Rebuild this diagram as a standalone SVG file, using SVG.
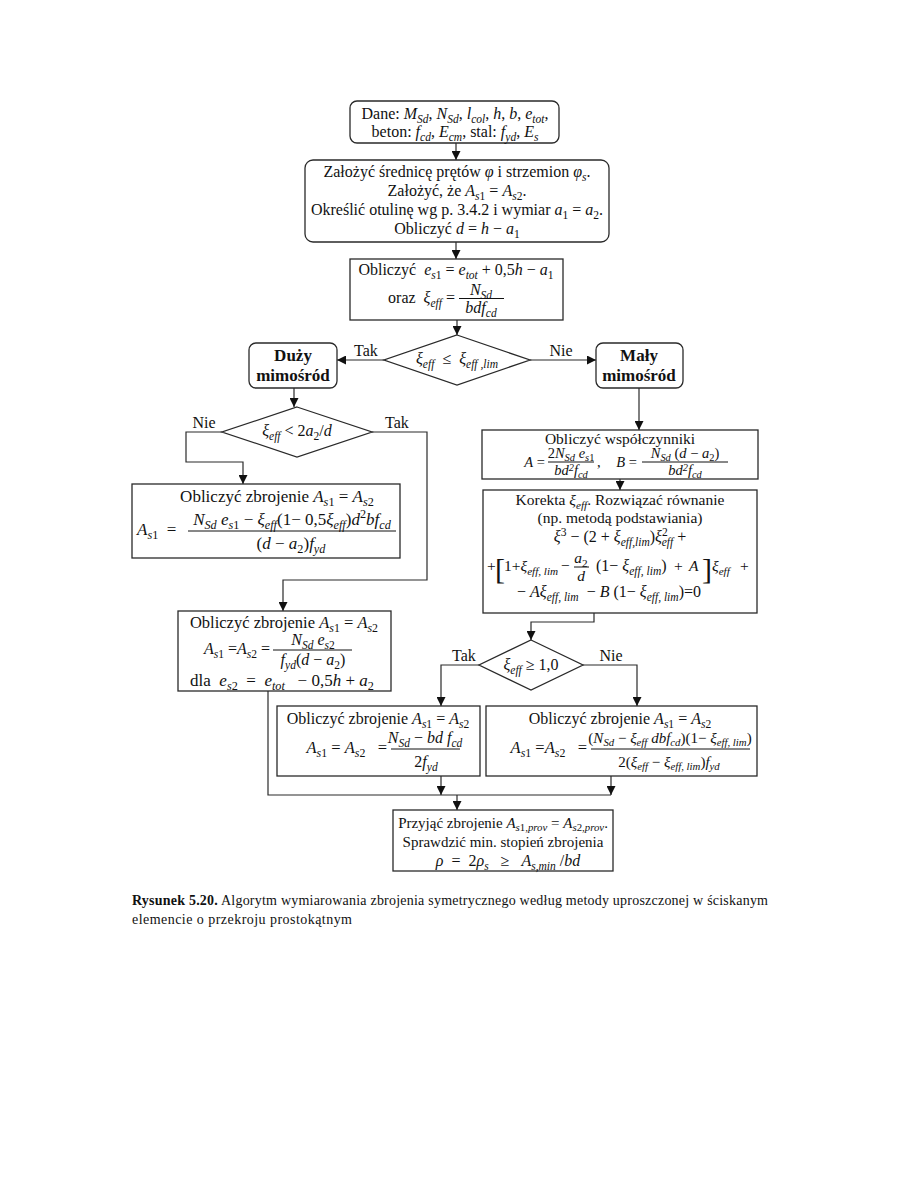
<svg xmlns="http://www.w3.org/2000/svg" width="918" height="1188" viewBox="0 0 918 1188" font-size="16">
<style>
text{font-family:"Liberation Serif","Times New Roman",serif;fill:#111}
.c{text-anchor:middle}
.e{text-anchor:end}
.i{font-style:italic}
.b{font-weight:bold}
.s{font-size:72%;baseline-shift:-0.32em}
.p{font-size:72%;baseline-shift:0.55em}
.q{font-size:72%;baseline-shift:0.4em}
.br{font-size:30px}
.box{fill:#fff;stroke:#2a2a2a;stroke-width:1.3}
.ln{fill:none;stroke:#2a2a2a;stroke-width:1.2}
.fr{stroke:#111;stroke-width:1}
</style>
<defs>
<marker id="ah" viewBox="0 0 10 10" refX="10" refY="5" markerWidth="9" markerHeight="9" orient="auto" markerUnits="userSpaceOnUse"><path d="M0,0 L10,5 L0,10 z" fill="#111"/></marker>
</defs>
<rect width="918" height="1188" fill="#fff"/>

<g id="connectors">
<path class="ln" d="M456,143 V160" marker-end="url(#ah)"/>
<path class="ln" d="M456,242 V259" marker-end="url(#ah)"/>
<path class="ln" d="M457,320 V335" marker-end="url(#ah)"/>
<path class="ln" d="M384,360 H337" marker-end="url(#ah)"/>
<path class="ln" d="M530,360 H596" marker-end="url(#ah)"/>
<path class="ln" d="M294,388 V407" marker-end="url(#ah)"/>
<path class="ln" d="M222,432 H186 V462 H243 V484" marker-end="url(#ah)"/>
<path class="ln" d="M372,432 H427 V580 H283 V611" marker-end="url(#ah)"/>
<path class="ln" d="M639,388 V430" marker-end="url(#ah)"/>
<path class="ln" d="M620,479 V490" marker-end="url(#ah)"/>
<path class="ln" d="M594,613 V622 H531 V640" marker-end="url(#ah)"/>
<path class="ln" d="M479,665 H441 V706" marker-end="url(#ah)"/>
<path class="ln" d="M583,665 H637 V706" marker-end="url(#ah)"/>
<path class="ln" d="M268,691 V795 H611"/>
<path class="ln" d="M441,776 V795" marker-end="url(#ah)"/>
<path class="ln" d="M611,776 V795" marker-end="url(#ah)"/>
<path class="ln" d="M457,795 V810" marker-end="url(#ah)"/>
<text x="366" y="356" class="c">Tak</text>
<text x="561" y="356" class="c">Nie</text>
<text x="204" y="428" class="c">Nie</text>
<text x="397" y="428" class="c">Tak</text>
<text x="464" y="661" class="c">Tak</text>
<text x="611" y="661" class="c">Nie</text>
</g>

<g id="n1">
<rect class="box" x="350" y="101" width="209" height="42" rx="7"/>
<text x="455" y="118.5" class="c">Dane: <tspan class="i">M</tspan><tspan class="s i">Sd</tspan>, <tspan class="i">N</tspan><tspan class="s i">Sd</tspan>, <tspan class="i">l</tspan><tspan class="s i">col</tspan>, <tspan class="i">h</tspan>, <tspan class="i">b</tspan>, <tspan class="i">e</tspan><tspan class="s i">tot</tspan>,</text>
<text x="455" y="137" class="c">beton: <tspan class="i">f</tspan><tspan class="s i">cd</tspan>, <tspan class="i">E</tspan><tspan class="s i">cm</tspan>, stal: <tspan class="i">f</tspan><tspan class="s i">yd</tspan>, <tspan class="i">E</tspan><tspan class="s i">s</tspan></text>
</g>

<g id="n2">
<rect class="box" x="305" y="160" width="304" height="82" rx="8"/>
<text x="457" y="177" class="c">Założyć średnicę prętów <tspan class="i">φ</tspan> i strzemion <tspan class="i">φ</tspan><tspan class="s i">s</tspan>.</text>
<text x="457" y="196" class="c">Założyć, że <tspan class="i">A</tspan><tspan class="s"><tspan class="i">s</tspan>1</tspan> = <tspan class="i">A</tspan><tspan class="s"><tspan class="i">s</tspan>2</tspan>.</text>
<text x="457" y="215" class="c">Określić otulinę wg p. 3.4.2 i wymiar <tspan class="i">a</tspan><tspan class="s">1</tspan> = <tspan class="i">a</tspan><tspan class="s">2</tspan>.</text>
<text x="457" y="234" class="c">Obliczyć <tspan class="i">d</tspan> = <tspan class="i">h</tspan> − <tspan class="i">a</tspan><tspan class="s">1</tspan></text>
</g>

<g id="n3">
<rect class="box" x="350" y="259" width="213" height="61"/>
<text x="456" y="275" class="c">Obliczyć&#160; <tspan class="i">e</tspan><tspan class="s"><tspan class="i">s</tspan>1</tspan> = <tspan class="i">e</tspan><tspan class="s i">tot</tspan> + 0,5<tspan class="i">h</tspan> − <tspan class="i">a</tspan><tspan class="s">1</tspan></text>
<text x="455" y="303" class="e">oraz&#160; <tspan class="i">ξ</tspan><tspan class="s i">eff</tspan> =</text>
<text x="481" y="294.5" class="c"><tspan class="i">N</tspan><tspan class="s i">Sd</tspan></text>
<line class="fr" x1="459" y1="298.5" x2="504" y2="298.5"/>
<text x="481" y="313" class="c i">bdf<tspan class="s">cd</tspan></text>
</g>

<g id="d1">
<polygon class="box" points="457,335 530,360 457,385 384,360"/>
<text x="457" y="364" class="c"><tspan class="i">ξ</tspan><tspan class="s i">eff</tspan>&#160; ≤ &#160;<tspan class="i">ξ</tspan><tspan class="s i">eff ,lim</tspan></text>
</g>

<g id="duzy" font-size="17">
<rect class="box" x="249" y="343" width="88" height="45" rx="7"/>
<text x="293" y="361" class="c b">Duży</text>
<text x="293" y="381" class="c b">mimośród</text>
</g>

<g id="maly" font-size="17">
<rect class="box" x="596" y="343" width="87" height="45" rx="7"/>
<text x="639" y="361" class="c b">Mały</text>
<text x="639" y="381" class="c b">mimośród</text>
</g>

<g id="d2">
<polygon class="box" points="297,407 372,432 297,457 222,432"/>
<text x="297" y="436" class="c"><tspan class="i">ξ</tspan><tspan class="s i">eff</tspan> &lt; 2<tspan class="i">a</tspan><tspan class="s">2</tspan>/<tspan class="i">d</tspan></text>
</g>

<g id="l1" font-size="17">
<rect class="box" x="132" y="484" width="268" height="74"/>
<text x="277" y="502" class="c">Obliczyć zbrojenie <tspan class="i">A</tspan><tspan class="s"><tspan class="i">s</tspan>1</tspan> = <tspan class="i">A</tspan><tspan class="s"><tspan class="i">s</tspan>2</tspan></text>
<text x="137" y="535"><tspan class="i">A</tspan><tspan class="s"><tspan class="i">s</tspan>1</tspan>&#160; =</text>
<text x="292" y="525" class="c"><tspan class="i">N</tspan><tspan class="s i">Sd</tspan> <tspan class="i">e</tspan><tspan class="s"><tspan class="i">s</tspan>1</tspan> − <tspan class="i">ξ</tspan><tspan class="s i">eff</tspan>(1− 0,5<tspan class="i">ξ</tspan><tspan class="s i">eff</tspan>)<tspan class="i">d</tspan><tspan class="p">2</tspan><tspan class="i">bf</tspan><tspan class="s i">cd</tspan></text>
<line class="fr" x1="188" y1="531" x2="396" y2="531"/>
<text x="291" y="549" class="c">(<tspan class="i">d</tspan> − <tspan class="i">a</tspan><tspan class="s">2</tspan>)<tspan class="i">f</tspan><tspan class="s i">yd</tspan></text>
</g>

<g id="r1" font-size="14.5">
<rect class="box" x="482" y="430" width="276" height="49"/>
<text x="620" y="444" class="c" font-size="15.5">Obliczyć współczynniki</text>
<text x="545" y="467" class="e"><tspan class="i">A</tspan> =</text>
<text x="571" y="458" class="c">2<tspan class="i">N</tspan><tspan class="s i">Sd</tspan> <tspan class="i">e</tspan><tspan class="s"><tspan class="i">s</tspan>1</tspan></text>
<line class="fr" x1="548" y1="462" x2="594" y2="462"/>
<text x="571" y="475" class="c i">bd<tspan class="q">2</tspan><tspan class="i">f</tspan><tspan class="s">cd</tspan></text>
<text x="597" y="467">,</text>
<text x="637" y="467" class="e"><tspan class="i">B</tspan> =</text>
<text x="685" y="458" class="c"><tspan class="i">N</tspan><tspan class="s i">Sd</tspan> (<tspan class="i">d</tspan> − <tspan class="i">a</tspan><tspan class="s">2</tspan>)</text>
<line class="fr" x1="642" y1="462" x2="728" y2="462"/>
<text x="685" y="475" class="c i">bd<tspan class="q">2</tspan><tspan class="i">f</tspan><tspan class="s">cd</tspan></text>
</g>

<g id="r2" font-size="15.5">
<rect class="box" x="483" y="490" width="274" height="123"/>
<text x="620" y="505" class="c">Korekta <tspan class="i">ξ</tspan><tspan class="s i">eff</tspan>. Rozwiązać równanie</text>
<text x="620" y="523" class="c">(np. metodą podstawiania)</text>
<text x="620" y="542" class="c" font-size="16"><tspan class="i">ξ</tspan><tspan class="p">3</tspan>&#160;− (2 + <tspan class="i">ξ</tspan><tspan class="s i">eff,lim</tspan>)<tspan class="i">ξ</tspan><tspan class="p">2</tspan><tspan class="s i" dx="-6">eff</tspan>&#160;+</text>
<text x="487" y="571">+</text>
<text x="495" y="579" class="br">[</text>
<text x="504" y="571">1+<tspan class="i">ξ</tspan><tspan class="s i">eff, lim</tspan></text>
<text x="561" y="571">−</text>
<text x="581" y="563" class="c"><tspan class="i">a</tspan><tspan class="s">2</tspan></text>
<line class="fr" x1="574" y1="567" x2="589" y2="567"/>
<text x="581" y="581" class="c i">d</text>
<text x="596" y="571" font-size="16">(1−&#160;<tspan class="i">ξ</tspan><tspan class="s i">eff, lim</tspan>)</text>
<text x="674" y="571">+</text>
<text x="689" y="571" class="i">A</text>
<text x="702" y="579" class="br">]</text>
<text x="712" y="571"><tspan class="i">ξ</tspan><tspan class="s i">eff</tspan></text>
<text x="740" y="571">+</text>
<text x="609" y="597" class="c" font-size="16">− <tspan class="i">Aξ</tspan><tspan class="s i">eff, lim</tspan>&#160; − <tspan class="i">B</tspan>&#160;(1− <tspan class="i">ξ</tspan><tspan class="s i">eff, lim</tspan>)=0</text>
</g>

<g id="d3">
<polygon class="box" points="531,640 583,665 531,690 479,665"/>
<text x="531" y="670" class="c"><tspan class="i">ξ</tspan><tspan class="s i">eff</tspan> ≥ 1,0</text>
</g>

<g id="l2" font-size="16.5">
<rect class="box" x="178" y="611" width="213" height="80"/>
<text x="284" y="628" class="c">Obliczyć zbrojenie <tspan class="i">A</tspan><tspan class="s"><tspan class="i">s</tspan>1</tspan> = <tspan class="i">A</tspan><tspan class="s"><tspan class="i">s</tspan>2</tspan></text>
<text x="270" y="654" class="e" font-size="16"><tspan class="i">A</tspan><tspan class="s"><tspan class="i">s</tspan>1</tspan> =<tspan class="i">A</tspan><tspan class="s"><tspan class="i">s</tspan>2</tspan> =</text>
<text x="313" y="645" class="c" font-size="16"><tspan class="i">N</tspan><tspan class="s i">Sd</tspan> <tspan class="i">e</tspan><tspan class="s"><tspan class="i">s</tspan>2</tspan></text>
<line class="fr" x1="273" y1="650" x2="352" y2="650"/>
<text x="313" y="665" class="c" font-size="16"><tspan class="i">f</tspan><tspan class="s i">yd</tspan>(<tspan class="i">d</tspan> − <tspan class="i">a</tspan><tspan class="s">2</tspan>)</text>
<text x="282" y="686" class="c" font-size="17">dla&#160; <tspan class="i">e</tspan><tspan class="s"><tspan class="i">s</tspan>2</tspan>&#160; = &#160;<tspan class="i">e</tspan><tspan class="s i">tot</tspan>&#160;&#160; − 0,5<tspan class="i">h</tspan> + <tspan class="i">a</tspan><tspan class="s">2</tspan></text>
</g>

<g id="m">
<rect class="box" x="277" y="706" width="203" height="70"/>
<text x="378" y="724" class="c">Obliczyć zbrojenie <tspan class="i">A</tspan><tspan class="s"><tspan class="i">s</tspan>1</tspan> = <tspan class="i">A</tspan><tspan class="s"><tspan class="i">s</tspan>2</tspan></text>
<text x="387" y="753" class="e" font-size="16.5"><tspan class="i">A</tspan><tspan class="s"><tspan class="i">s</tspan>1</tspan>&#160;= <tspan class="i">A</tspan><tspan class="s"><tspan class="i">s</tspan>2</tspan>&#160;&#160; =</text>
<text x="425" y="743" class="c"><tspan class="i">N</tspan><tspan class="s i">Sd</tspan> − <tspan class="i">bd f</tspan><tspan class="s i">cd</tspan></text>
<line class="fr" x1="391" y1="749" x2="460" y2="749"/>
<text x="426" y="767" class="c">2<tspan class="i">f</tspan><tspan class="s i">yd</tspan></text>
</g>

<g id="r3">
<rect class="box" x="486" y="706" width="271" height="70"/>
<text x="620" y="724" class="c">Obliczyć zbrojenie <tspan class="i">A</tspan><tspan class="s"><tspan class="i">s</tspan>1</tspan> = <tspan class="i">A</tspan><tspan class="s"><tspan class="i">s</tspan>2</tspan></text>
<text x="587" y="753" class="e" font-size="16.5"><tspan class="i">A</tspan><tspan class="s"><tspan class="i">s</tspan>1</tspan>&#160;=<tspan class="i">A</tspan><tspan class="s"><tspan class="i">s</tspan>2</tspan>&#160;&#160; =</text>
<text x="670" y="743" class="c" font-size="15">(<tspan class="i">N</tspan><tspan class="s i">Sd</tspan> − <tspan class="i">ξ</tspan><tspan class="s i">eff</tspan> <tspan class="i">dbf</tspan><tspan class="s i">cd</tspan>)(1− <tspan class="i">ξ</tspan><tspan class="s i">eff, lim</tspan>)</text>
<line class="fr" x1="591" y1="749" x2="750" y2="749"/>
<text x="669" y="767" class="c" font-size="15">2(<tspan class="i">ξ</tspan><tspan class="s i">eff</tspan> − <tspan class="i">ξ</tspan><tspan class="s i">eff, lim</tspan>)<tspan class="i">f</tspan><tspan class="s i">yd</tspan></text>
</g>

<g id="final" font-size="15">
<rect class="box" x="393" y="810" width="220" height="61"/>
<text x="503" y="828" class="c">Przyjąć zbrojenie <tspan class="i">A</tspan><tspan class="s"><tspan class="i">s</tspan>1,<tspan class="i">prov</tspan></tspan> = <tspan class="i">A</tspan><tspan class="s"><tspan class="i">s</tspan>2,<tspan class="i">prov</tspan></tspan>.</text>
<text x="503" y="847" class="c">Sprawdzić min. stopień zbrojenia</text>
<text x="508" y="866" class="c" font-size="16"><tspan class="i">ρ</tspan>&#160; = &#160;2<tspan class="i">ρ</tspan><tspan class="s i">s</tspan>&#160;&#160; ≥ &#160;&#160;<tspan class="i">A</tspan><tspan class="s i">s,min</tspan> /<tspan class="i">bd</tspan></text>
</g>

<g id="caption" font-size="14">
<text x="132" y="905" textLength="636" lengthAdjust="spacing"><tspan class="b">Rysunek 5.20.</tspan> Algorytm wymiarowania zbrojenia symetrycznego według metody uproszczonej w ściskanym</text>
<text x="132" y="924" textLength="220" lengthAdjust="spacing">elemencie o przekroju prostokątnym</text>
</g>
</svg>
